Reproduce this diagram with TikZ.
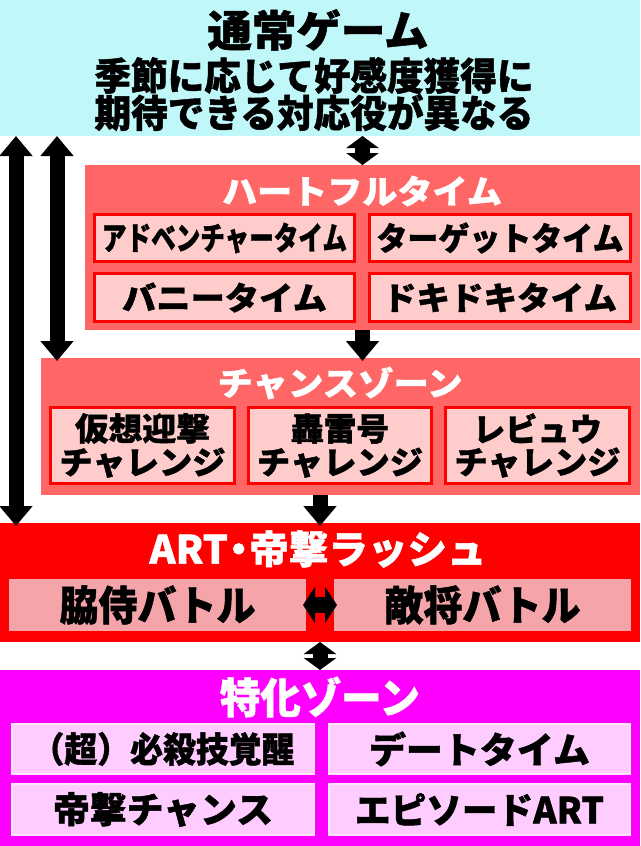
\documentclass[tikz,border=0pt]{standalone}
\usepackage{fontspec}
\usepackage{graphicx}
\usetikzlibrary{arrows.meta}
\newfontfamily\jp{Noto Sans CJK JP}[BoldFeatures={FakeBold=1.2}]
\definecolor{cyanbg}{RGB}{192,248,250}
\definecolor{salmon}{RGB}{255,102,102}
\definecolor{pinkin}{RGB}{255,204,204}
\definecolor{artin}{RGB}{245,165,170}
\definecolor{mag}{RGB}{255,0,255}
\definecolor{magin}{RGB}{255,204,255}
\newcommand\fw[2]{\resizebox{#1pt}{\height}{#2}}
\newcommand\fs[1]{\fontsize{#1}{#1}\selectfont}
\tikzset{
  panel/.style={rectangle, inner sep=0pt, outer sep=0pt, draw=none},
  hfbox/.style={rectangle, inner sep=0pt, outer sep=0pt, fill=pinkin, draw=red, line width=3pt},
  artbox/.style={rectangle, inner sep=0pt, outer sep=0pt, fill=artin, draw=none},
  spbox/.style={rectangle, inner sep=0pt, outer sep=0pt, fill=magin, draw=magin!50!white, line width=2pt},
  ttl/.style={text=white, font=\jp\bfseries, inner sep=0pt},
  lbl/.style={text=black, font=\jp\bfseries, inner sep=0pt},
  arr/.style={line width=15pt, -{Triangle[width=32pt,length=20pt]}},
  darr/.style={line width=15pt, {Triangle[width=32pt,length=20pt]}-{Triangle[width=32pt,length=20pt]}},
  sdarr/.style={line width=15pt, {Triangle[width=32pt,length=12pt]}-{Triangle[width=32pt,length=12pt]}},
  hdarr/.style={line width=16pt, {Triangle[width=36pt,length=12pt]}-{Triangle[width=36pt,length=12pt]}}
}
\begin{document}
\begin{tikzpicture}[x=1pt,y=-1pt]
\useasboundingbox (0,0) rectangle (640,846);
% panels
\node[panel, fill=cyanbg, minimum width=640pt, minimum height=136pt] (game) at (320,68) {};
\node[panel, fill=salmon, minimum width=555pt, minimum height=165pt] (hf) at (362.5,247.5) {};
\node[panel, fill=salmon, minimum width=599pt, minimum height=137pt] (cz) at (340.5,426.5) {};
\node[panel, fill=red, minimum width=640pt, minimum height=119pt] (art) at (320,582.5) {};
\node[panel, fill=mag, minimum width=640pt, minimum height=176pt] (sp) at (320,758) {};
% game texts
\node[lbl] (gt1) at (318,30) {\fs{43}\fw{221}{通常ゲーム}};
\node[lbl] (gt2) at (314,75.5) {\fs{38}\fw{439}{季節に応じて好感度獲得に}};
\node[lbl] (gt3) at (314,112.5) {\fs{38}\fw{439}{期待できる対応役が異なる}};
% heartful
\node[ttl] (hft) at (362,191) {\fs{33}\fw{280}{ハートフルタイム}};
\node[hfbox, minimum width=260pt, minimum height=47pt] (adv) at (224.5,238) {};
\node[hfbox, minimum width=261pt, minimum height=47pt] (tgt) at (500,238) {};
\node[hfbox, minimum width=260pt, minimum height=48pt] (bun) at (224.5,297.5) {};
\node[hfbox, minimum width=261pt, minimum height=48pt] (dok) at (500,297.5) {};
\node[lbl] at (adv) {\fs{32}\fw{245}{アドベンチャータイム}};
\node[lbl] at (tgt) {\fs{32}\fw{247}{ターゲットタイム}};
\node[lbl] at (bun) {\fs{32}\fw{205}{バニータイム}};
\node[lbl] at (dok) {\fs{32}\fw{234}{ドキドキタイム}};
% chance zone
\node[ttl] (czt) at (340,383) {\fs{33}\fw{245}{チャンスゾーン}};
\node[hfbox, minimum width=184pt, minimum height=76pt] (kas) at (142.5,445.5) {};
\node[hfbox, minimum width=183pt, minimum height=76pt] (gou) at (340,445.5) {};
\node[hfbox, minimum width=184pt, minimum height=76pt] (rev) at (537.5,445.5) {};
\node[lbl, align=center] at (kas) {\fs{32}\fw{135}{仮想迎撃}\\[3pt]\fs{32}\fw{166}{チャレンジ}};
\node[lbl, align=center] at (gou) {\fs{32}\fw{98}{轟雷号}\\[3pt]\fs{32}\fw{166}{チャレンジ}};
\node[lbl, align=center] at (rev) {\fs{32}\fw{129}{レビュウ}\\[3pt]\fs{32}\fw{166}{チャレンジ}};
% ART
\node[ttl] (artt) at (318,549) {\fs{39}\fw{337}{ART\kern-9pt・\kern-9pt帝撃ラッシュ}};
\node[artbox, minimum width=297pt, minimum height=52pt] (waki) at (157.5,605) {};
\node[artbox, minimum width=297pt, minimum height=52pt] (teki) at (482.5,605) {};
\node[lbl] at (waki) {\fs{41}\fw{196}{脇侍バトル}};
\node[lbl] at (teki) {\fs{41}\fw{196}{敵将バトル}};
% special zone
\node[ttl] (spt) at (320,697) {\fs{42}\fw{200}{特化ゾーン}};
\node[spbox, minimum width=302pt, minimum height=50pt] (cho) at (163,749) {};
\node[spbox, minimum width=301pt, minimum height=50pt] (date) at (479.5,749) {};
\node[spbox, minimum width=302pt, minimum height=51pt] (tei) at (163,809.5) {};
\node[spbox, minimum width=301pt, minimum height=51pt] (epi) at (479.5,809.5) {};
\node[lbl] at (cho) {\fs{35}\fw{263}{（超）必殺技覚醒}};
\node[lbl] at (date) {\fs{36}\fw{221}{デートタイム}};
\node[lbl] at (tei) {\fs{36}\fw{220}{帝撃チャンス}};
\node[lbl] at (epi) {\fs{36}\fw{249}{エピソードART}};
% connectors
\coordinate (a1) at (16,0);
\coordinate (a2) at (57,0);
\draw[darr] (a1 |- game.south) -- ([yshift=-3pt]a1 |- art.north);
\draw[darr] (a2 |- game.south) -- ([yshift=-3pt]a2 |- cz.north);
\draw[sdarr] (hf.north |- game.south) -- (hf.north);
\draw[arr] (hf.south) -- ([yshift=-3pt]hf.south |- cz.north);
\draw[arr] (art.north |- cz.south) -- ([yshift=-3pt]art.north);
\draw[hdarr] ([xshift=-3pt]waki.east) -- ([xshift=3pt]teki.west);
\draw[sdarr] (art.south) -- (sp.north);
\end{tikzpicture}
\end{document}
